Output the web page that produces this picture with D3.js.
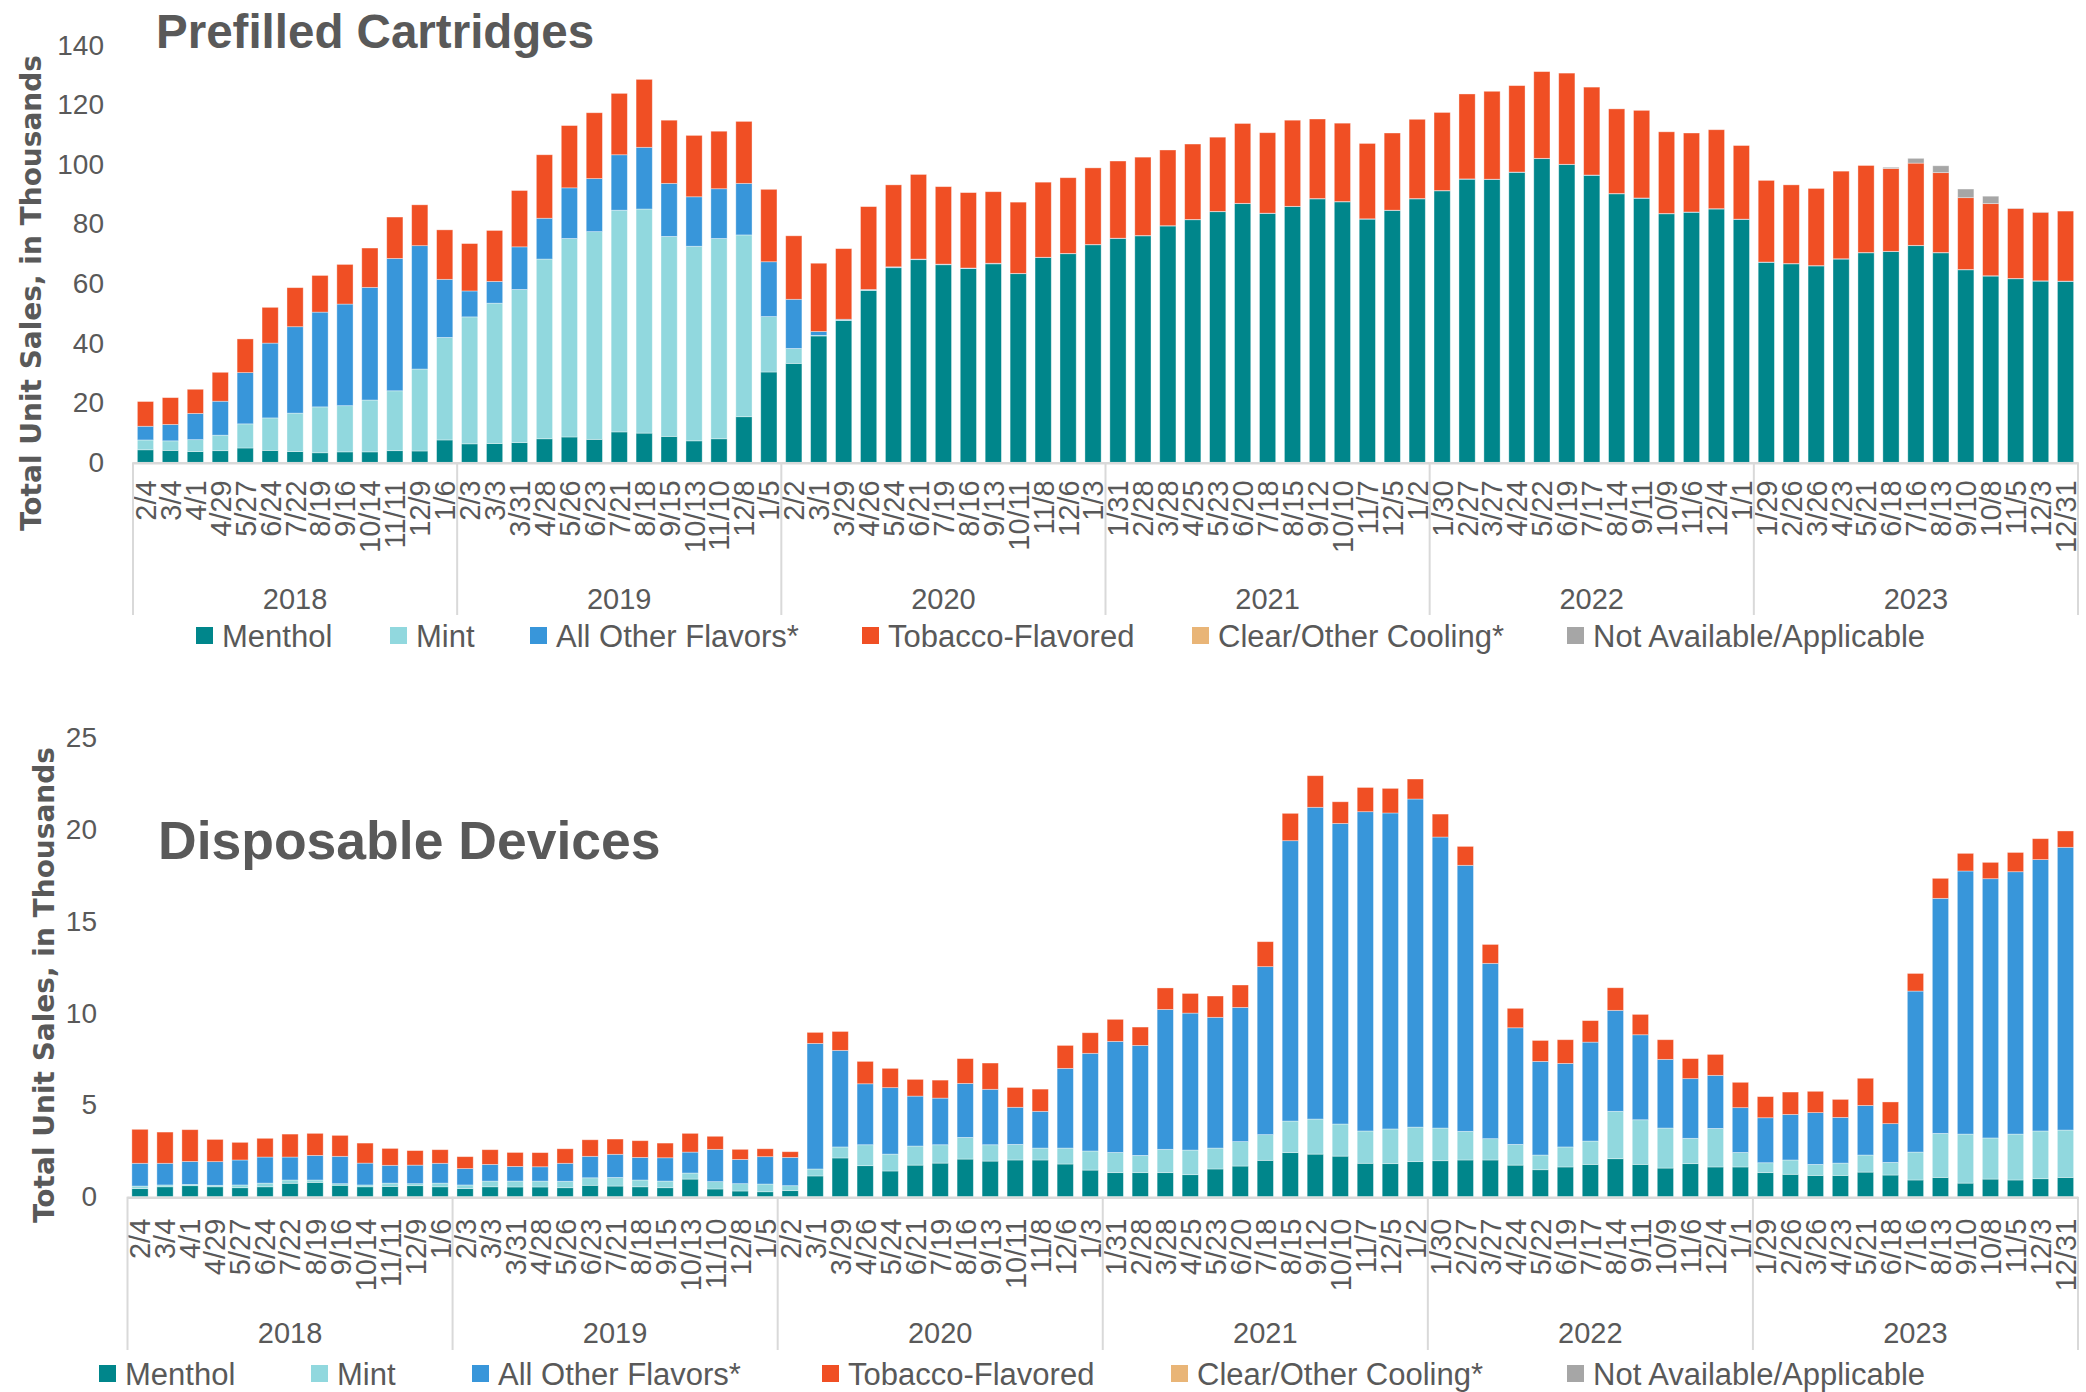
<!DOCTYPE html>
<html><head><meta charset="utf-8">
<script src="https://cdn.jsdelivr.net/npm/d3@7"></script>
<style>html,body{margin:0;padding:0;background:#fff;} svg{display:block;}</style>
</head><body>
<svg id="chart" width="2086" height="1392"></svg>
<script>
// ---------- DATA ----------
const weekLabels = [
  "2/4","3/4","4/1","4/29","5/27","6/24","7/22","8/19","9/16","10/14","11/11","12/9","1/6",
  "2/3","3/3","3/31","4/28","5/26","6/23","7/21","8/18","9/15","10/13","11/10","12/8","1/5",
  "2/2","3/1","3/29","4/26","5/24","6/21","7/19","8/16","9/13","10/11","11/8","12/6","1/3",
  "1/31","2/28","3/28","4/25","5/23","6/20","7/18","8/15","9/12","10/10","11/7","12/5","1/2",
  "1/30","2/27","3/27","4/24","5/22","6/19","7/17","8/14","9/11","10/9","11/6","12/4","1/1",
  "1/29","2/26","3/26","4/23","5/21","6/18","7/16","8/13","9/10","10/8","11/5","12/3","12/31"
];
const years = ["2018","2019","2020","2021","2022","2023"];
const weeksPerYear = 13;
const seriesNames = ["Menthol","Mint","All Other Flavors*","Tobacco-Flavored","Clear/Other Cooling*","Not Available/Applicable"];
const seriesColors = ["#00868b","#91d8de","#3896da","#f04f24","#e9b577","#a6a6a6"];

// Prefilled Cartridges (thousands of units)
const cartMenthol = [4.2,4.0,3.6,3.9,4.8,4.0,3.6,3.2,3.5,3.5,3.9,3.8,7.5,
  6.2,6.3,6.6,7.9,8.5,7.7,10.2,9.8,8.7,7.2,7.9,15.3,30.3,
  33.2,42.4,47.6,57.7,65.3,68.0,66.3,65.0,66.6,63.3,68.7,70.0,73.0,
  75.1,76.0,79.3,81.4,84.1,86.8,83.5,85.8,88.4,87.4,81.6,84.5,88.4,
  91.1,95.0,94.9,97.3,101.9,99.9,96.3,90.1,88.6,83.4,83.9,85.0,81.5,
  67.1,66.6,65.9,68.2,70.3,70.7,72.7,70.3,64.6,62.5,61.6,60.8,60.7];
const cartMint = [3.3,3.2,4.0,5.2,8.1,10.9,12.9,15.4,15.5,17.4,20.1,27.5,34.4,
  42.6,47.1,51.4,60.3,66.6,69.7,74.4,75.2,67.1,65.3,67.2,61.0,18.6,
  5.0,0.2,0.1,0.1,0.1,0.1,0.1,0.1,0.1,0,0,0,0,
  0,0,0,0,0,0,0,0,0,0,0,0,0,
  0,0,0,0,0,0,0,0,0,0,0,0,0,
  0,0,0,0,0,0,0,0,0,0,0,0,0];
const cartOther = [4.6,5.5,8.8,11.4,17.2,25.1,29.0,31.8,34.1,37.8,44.4,41.4,19.5,
  8.7,7.3,14.3,13.7,17.0,17.8,18.6,20.7,17.8,16.6,16.7,17.3,18.4,
  16.5,1.3,0.3,0.2,0.2,0.1,0.1,0.1,0.1,0.1,0.1,0.1,0.1,
  0.1,0.1,0.1,0.1,0.1,0.1,0.1,0.1,0.1,0.1,0.1,0.1,0.1,
  0.1,0.1,0.1,0.1,0.1,0.1,0.1,0.1,0.1,0.1,0.1,0.1,0.1,
  0.1,0.1,0.1,0.1,0.1,0.1,0.1,0.1,0.1,0.1,0.1,0.1,0.1];
const cartTobacco = [8.3,9.0,8.1,9.7,11.3,12.0,13.1,12.3,13.3,13.2,13.9,13.7,16.6,
  15.9,17.1,18.9,21.3,20.9,22.1,20.6,22.8,21.2,20.6,19.3,20.8,24.3,
  21.3,22.9,23.7,27.8,27.5,28.4,26.0,25.3,24.0,23.9,25.2,25.4,25.7,
  25.9,26.3,25.4,25.3,24.9,26.8,27.0,28.9,26.7,26.3,25.3,25.9,26.6,
  26.2,28.5,29.5,29.0,29.1,30.6,29.5,28.4,29.4,27.4,26.5,26.5,24.7,
  27.4,26.4,25.9,29.4,29.2,27.8,27.6,26.8,24.1,24.2,23.5,23.0,23.5];
const cartClear = new Array(78).fill(0);
const cartNA = [0,0,0,0,0,0,0,0,0,0,0,0,0,
  0,0,0,0,0,0,0,0,0,0,0,0,0,
  0,0,0,0,0,0,0,0,0,0,0,0,0,
  0,0,0,0,0,0,0,0,0,0,0,0,0,
  0,0,0,0,0,0,0,0,0,0,0,0,0,
  0,0,0,0,0,0.4,1.6,2.3,2.9,2.5,0.1,0.1,0];

// Disposable Devices (thousands of units)
const dispMenthol = [0.44,0.54,0.60,0.54,0.49,0.54,0.73,0.78,0.62,0.54,0.56,0.60,0.54,
  0.44,0.54,0.53,0.53,0.49,0.62,0.58,0.54,0.49,0.96,0.42,0.31,0.27,
  0.33,1.13,2.11,1.69,1.40,1.72,1.83,2.05,1.94,2.00,2.00,1.78,1.45,
  1.31,1.31,1.31,1.20,1.51,1.67,1.98,2.40,2.32,2.21,1.82,1.80,1.91,
  1.96,2.00,2.00,1.72,1.47,1.62,1.76,2.07,1.76,1.56,1.80,1.62,1.62,
  1.31,1.22,1.16,1.16,1.34,1.18,0.91,1.05,0.74,0.96,0.91,0.98,1.05];
const dispMint = [0.14,0.10,0.07,0.08,0.15,0.20,0.18,0.13,0.09,0.10,0.18,0.11,0.20,
  0.20,0.31,0.32,0.32,0.35,0.41,0.47,0.37,0.36,0.33,0.40,0.40,0.42,
  0.27,0.38,0.60,1.14,0.92,1.04,1.00,1.18,0.89,0.85,0.65,0.87,1.04,
  1.10,0.94,1.27,1.34,1.14,1.33,1.40,1.72,1.91,1.75,1.76,1.89,1.88,
  1.78,1.56,1.16,1.13,0.80,1.09,1.27,2.58,2.43,2.18,1.38,2.10,0.79,
  0.54,0.78,0.60,0.67,0.93,0.69,1.52,2.40,2.67,2.24,2.50,2.60,2.58];
const dispOther = [1.24,1.18,1.25,1.29,1.36,1.42,1.25,1.34,1.49,1.19,0.97,1.01,1.08,
  0.89,0.91,0.80,0.78,0.98,1.17,1.26,1.23,1.27,1.14,1.76,1.32,1.49,
  1.54,6.84,5.26,3.32,3.62,2.72,2.54,2.94,3.02,2.02,2.00,4.34,5.32,
  6.05,5.99,7.62,7.46,7.12,7.31,9.15,15.27,16.98,16.37,17.39,17.21,17.87,
  15.85,14.49,9.55,6.35,5.10,4.55,5.39,5.50,4.63,3.74,3.25,2.89,2.44,
  2.45,2.48,2.82,2.49,2.70,2.11,8.77,12.80,14.33,14.12,14.29,14.78,15.40];
const dispTobacco = [1.85,1.70,1.73,1.21,0.96,1.02,1.25,1.20,1.14,1.09,0.92,0.79,0.74,
  0.65,0.80,0.76,0.77,0.79,0.90,0.83,0.91,0.80,1.02,0.71,0.55,0.43,
  0.31,0.60,1.03,1.22,1.05,0.91,0.98,1.35,1.43,1.08,1.21,1.25,1.12,
  1.20,1.00,1.17,1.07,1.16,1.22,1.36,1.49,1.72,1.18,1.32,1.34,1.09,
  1.25,1.03,1.03,1.06,1.14,1.29,1.17,1.23,1.11,1.07,1.09,1.14,1.38,
  1.15,1.22,1.16,0.98,1.48,1.18,0.96,1.09,0.96,0.89,1.05,1.14,0.89];
const dispClear = new Array(78).fill(0);
const dispNA = new Array(78).fill(0);

const cartTicks = [0,20,40,60,80,100,120,140];
const dispTicks = [0,5,10,15,20,25];

// ---------- DRAW ----------
const svg = d3.select("#chart");
const TXT = "#595959";
const GRID = "#d9d9d9";
const keys = ["menthol","mint","other","tobacco","clear","na"];
const FONT = "Tahoma, 'Liberation Sans', Arial, sans-serif";

function drawPanel(p) {
  const g = svg.append("g");
  const n = weekLabels.length;
  const x = d3.scaleBand().domain(d3.range(n)).range([p.x0, p.x1])
    .paddingInner(0.35).paddingOuter(0.175);
  const y = d3.scaleLinear().domain([0, p.ticks[p.ticks.length-1]]).range([p.yBase, p.yTop]);

  const rows = d3.range(n).map(i => {
    const r = {i};
    keys.forEach((k, j) => r[k] = p.series[j][i]);
    return r;
  });
  const stacked = d3.stack().keys(keys)(rows);

  g.append("g").selectAll("g").data(stacked).join("g")
    .attr("fill", (d, j) => seriesColors[j])
    .selectAll("rect").data(d => d.filter(s => s[1] - s[0] > 0)).join("rect")
    .attr("x", d => x(d.data.i))
    .attr("width", x.bandwidth())
    .attr("y", d => y(d[1]))
    .attr("height", d => y(d[0]) - y(d[1]))
    .attr("stroke", "rgba(255,255,255,0.45)")
    .attr("stroke-width", 0.8);

  // y axis labels
  const ya = g.append("g").attr("transform", `translate(${p.tickX},0)`)
    .call(d3.axisLeft(y).tickValues(p.ticks).tickSize(0).tickPadding(0));
  ya.select(".domain").remove();
  ya.selectAll("text").attr("fill", TXT).style("font-family", FONT)
    .style("font-size", "28px");

  // x axis line
  g.append("line").attr("x1", p.x0).attr("x2", p.x1).attr("y1", p.yBase + 1).attr("y2", p.yBase + 1)
    .attr("stroke", GRID).attr("stroke-width", 2.5);

  // date labels
  const xa = g.append("g").attr("transform", `translate(0,${p.yBase})`)
    .call(d3.axisBottom(x).tickSize(0).tickFormat(i => weekLabels[i]));
  xa.select(".domain").remove();
  xa.selectAll("text")
    .attr("y", 0).attr("x", -p.labelGap).attr("dy", "0.36em")
    .attr("transform", "rotate(-90)")
    .style("text-anchor", "end")
    .attr("fill", TXT)
    .style("font-family", FONT)
    .style("font-size", "29px");

  // year dividers and labels
  const step = x.step();
  d3.range(years.length + 1).forEach(k => {
    const xx = p.x0 + k * weeksPerYear * step;
    g.append("line").attr("x1", xx).attr("x2", xx).attr("y1", p.yBase).attr("y2", p.divBottom)
      .attr("stroke", GRID).attr("stroke-width", 2);
  });
  g.append("g").selectAll("text").data(years).join("text")
    .attr("x", (d, k) => p.x0 + (k + 0.5) * weeksPerYear * step)
    .attr("y", p.yearY)
    .attr("text-anchor", "middle")
    .attr("fill", TXT)
    .style("font-family", FONT)
    .style("font-size", "29px")
    .text(d => d);

  // legend
  const lg = g.append("g").selectAll("g").data(seriesNames).join("g")
    .attr("transform", (d, j) => `translate(${p.legendX[j]},${p.legendY})`);
  lg.append("rect").attr("x", 0).attr("y", -10).attr("width", 17).attr("height", 17)
    .attr("fill", (d, j) => seriesColors[j]);
  lg.append("text").attr("x", 26).attr("y", 0).attr("dy", "0.33em")
    .attr("fill", TXT)
    .style("font-family", FONT)
    .style("font-size", "31px")
    .text(d => d);

  // title
  g.append("text").attr("x", p.titleX).attr("y", p.titleY)
    .attr("fill", TXT)
    .style("font-family", FONT)
    .style("font-weight", "bold")
    .style("font-size", p.titleSize + "px")
    .text(p.title);

  // y title
  g.append("text")
    .attr("transform", `translate(${p.yTitleX},${p.yTitleY}) rotate(-90)`)
    .attr("text-anchor", "middle")
    .attr("fill", TXT)
    .style("font-family", "'DejaVu Sans', Verdana, sans-serif")
    .style("font-weight", "bold")
    .style("font-size", "28px")
    .text("Total Unit Sales, in Thousands");
}

drawPanel({
  series: [cartMenthol, cartMint, cartOther, cartTobacco, cartClear, cartNA],
  ticks: cartTicks,
  x0: 133, x1: 2078, yBase: 462.3, yTop: 45.1,
  tickX: 104, labelGap: 18, divBottom: 615, yearY: 609,
  legendX: [196, 390, 530, 862, 1192, 1567], legendY: 637,
  title: "Prefilled Cartridges", titleX: 156, titleY: 48, titleSize: 47.5,
  yTitleX: 41, yTitleY: 293
});

drawPanel({
  series: [dispMenthol, dispMint, dispOther, dispTobacco, dispClear, dispNA],
  ticks: dispTicks,
  x0: 127.5, x1: 2078, yBase: 1196.7, yTop: 737.7,
  tickX: 97, labelGap: 22, divBottom: 1350, yearY: 1343,
  legendX: [99, 311, 472, 822, 1171, 1567], legendY: 1375,
  title: "Disposable Devices", titleX: 158, titleY: 859, titleSize: 53.5,
  yTitleX: 54, yTitleY: 985
});
</script>
</body></html>
